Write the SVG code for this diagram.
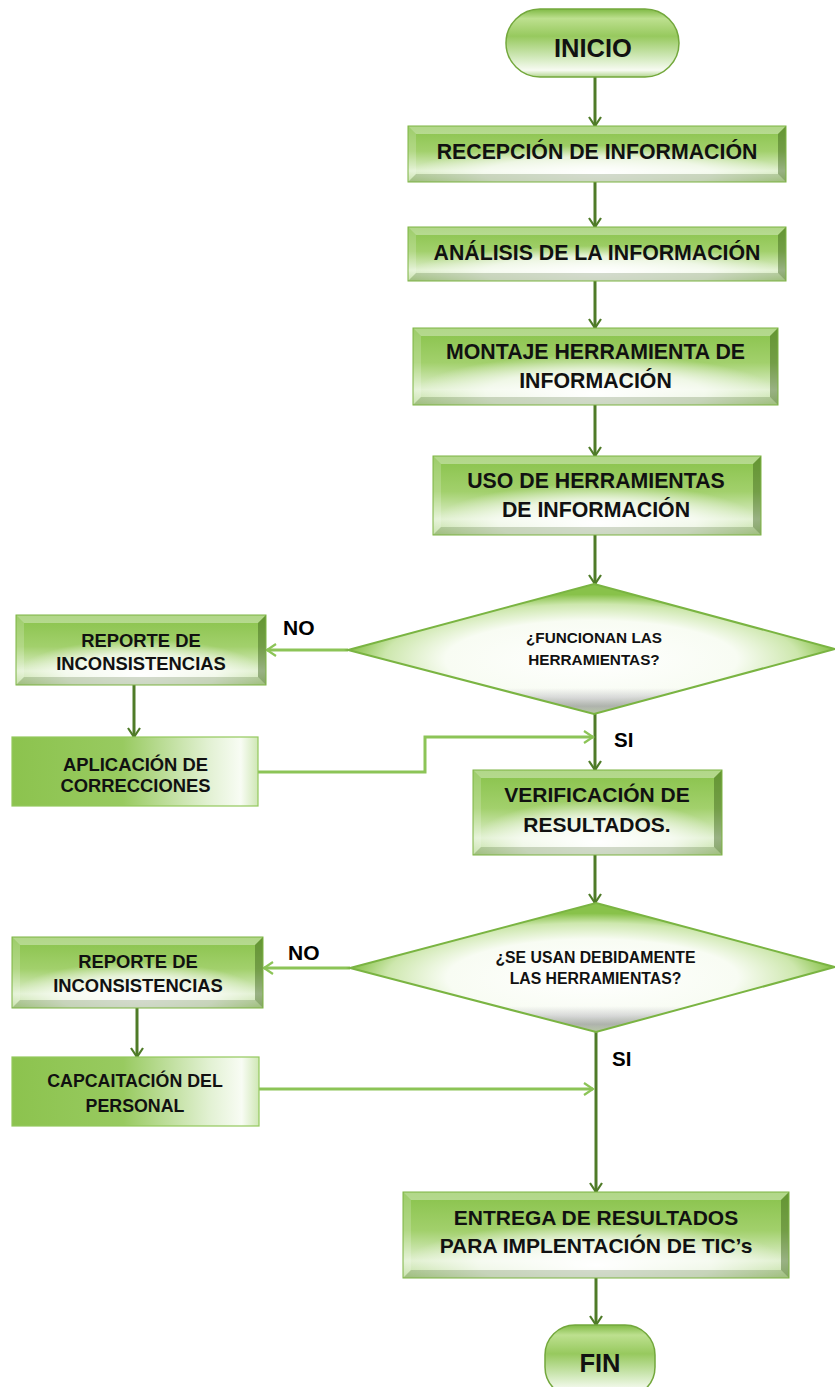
<svg xmlns="http://www.w3.org/2000/svg" width="835" height="1387" viewBox="0 0 835 1387">
<style>
.t{font-family:"Liberation Sans",Arial,Helvetica,sans-serif;font-weight:bold;fill:#111;text-anchor:middle}
.lbl{font-family:"Liberation Sans",Arial,Helvetica,sans-serif;font-weight:bold;fill:#000}
.face{fill:url(#faceV)}
.glow{fill:url(#glow)}
.bt{fill:#ffffff;opacity:.35}
.bl{fill:#ffffff;opacity:.18}
.br{fill:#2c5210;opacity:.4}
.bb{fill:#3b5a22;opacity:.22}
.edge{fill:none;stroke:#7db343;stroke-width:1}
.flat{fill:url(#flatH);stroke:#93c85c;stroke-width:1.2}
.dia{fill:url(#diaR)}
.diaS{fill:url(#diaShade)}
.diaE{fill:none;stroke:#7ab442;stroke-width:2}
.pill{fill:url(#pillV);stroke:#73a83c;stroke-width:1.5}
.cd{fill:none;stroke:#4f7b28;stroke-width:3;marker-end:url(#ad)}
.cl{fill:none;stroke:#8cc457;stroke-width:3;marker-end:url(#al)}
</style>
<defs>
<linearGradient id="faceV" x1="0" y1="0" x2="0" y2="1">
<stop offset="0" stop-color="#88c24a"/>
<stop offset="0.45" stop-color="#a2d06c"/>
<stop offset="0.8" stop-color="#e0f0cf"/>
<stop offset="1" stop-color="#bddc9b"/>
</linearGradient>
<radialGradient id="glow" cx="0.5" cy="0.85" r="0.5">
<stop offset="0" stop-color="#ffffff" stop-opacity="1"/>
<stop offset="0.6" stop-color="#ffffff" stop-opacity="0.7"/>
<stop offset="1" stop-color="#ffffff" stop-opacity="0"/>
</radialGradient>
<linearGradient id="flatH" x1="0" y1="0" x2="1" y2="0">
<stop offset="0" stop-color="#8cc34e"/>
<stop offset="0.45" stop-color="#98ca60"/>
<stop offset="0.8" stop-color="#e2f1d3"/>
<stop offset="0.93" stop-color="#f8fcf4"/>
<stop offset="1" stop-color="#cfe7b5"/>
</linearGradient>
<radialGradient id="diaR" cx="0.5" cy="0.58" r="0.5">
<stop offset="0" stop-color="#ffffff"/>
<stop offset="0.6" stop-color="#f8fcf3"/>
<stop offset="0.85" stop-color="#cde7ad"/>
<stop offset="1" stop-color="#88c24a"/>
</radialGradient>
<linearGradient id="diaShade" x1="0" y1="0" x2="0" y2="1">
<stop offset="0" stop-color="#6e6680" stop-opacity="0"/>
<stop offset="0.8" stop-color="#6e6680" stop-opacity="0"/>
<stop offset="0.94" stop-color="#6e6680" stop-opacity="0.45"/>
<stop offset="1" stop-color="#6e6680" stop-opacity="0.25"/>
</linearGradient>
<linearGradient id="pillV" x1="0" y1="0" x2="0" y2="1">
<stop offset="0" stop-color="#80ba45"/>
<stop offset="0.14" stop-color="#bde08f"/>
<stop offset="0.4" stop-color="#97c95e"/>
<stop offset="0.72" stop-color="#d3eabd"/>
<stop offset="0.9" stop-color="#f7fbf2"/>
<stop offset="1" stop-color="#b3d690"/>
</linearGradient>
<marker id="ad" viewBox="0 0 14 14" refX="12" refY="7" markerWidth="14" markerHeight="14" markerUnits="userSpaceOnUse" orient="auto">
<path d="M3,1 L12,7 L3,13" fill="none" stroke="#4f7b28" stroke-width="2.2"/>
</marker>
<marker id="al" viewBox="0 0 14 14" refX="12" refY="7" markerWidth="14" markerHeight="14" markerUnits="userSpaceOnUse" orient="auto">
<path d="M3,1 L12,7 L3,13" fill="none" stroke="#8cc457" stroke-width="2.2"/>
</marker>
</defs>

<g id="connectors">
<path class="cd" d="M595,77 V126"/>
<path class="cd" d="M595,182 V227"/>
<path class="cd" d="M595,281 V328"/>
<path class="cd" d="M595,405 V456"/>
<path class="cd" d="M595,535 V584"/>
<path class="cd" d="M595,714 V770"/>
<path class="cd" d="M595,855 V903"/>
<path class="cd" d="M596,1032 V1192"/>
<path class="cd" d="M596,1278 V1325"/>
<path class="cd" d="M134,685 V737"/>
<path class="cd" d="M137,1008 V1057"/>
<path class="cl" d="M348,650 H267"/>
<path class="cl" d="M258,772 H425 V737 H593"/>
<path class="cl" d="M350,968 H264"/>
<path class="cl" d="M259,1089 H593"/>
</g>

<g id="n-inicio">
<rect class="pill" x="506" y="9" width="173" height="68" rx="34"/>
<text class="t" x="593" y="57" font-size="25.5">INICIO</text>
</g>

<g id="n-recepcion">
<rect class="face" x="408" y="126" width="378" height="56"/>
<rect class="glow" x="408" y="126" width="378" height="56"/>
<polygon class="bt" points="408,126 786,126 778,134 416,134"/>
<polygon class="bl" points="408,126 416,134 416,174 408,182"/>
<polygon class="br" points="786,126 786,182 778,174 778,134"/>
<polygon class="bb" points="408,182 416,174 778,174 786,182"/>
<rect class="edge" x="408" y="126" width="378" height="56"/>
<text class="t" x="597" y="159" font-size="21.3">RECEPCIÓN DE INFORMACIÓN</text>
</g>

<g id="n-analisis">
<rect class="face" x="408" y="227" width="378" height="54"/>
<rect class="glow" x="408" y="227" width="378" height="54"/>
<polygon class="bt" points="408,227 786,227 778,235 416,235"/>
<polygon class="bl" points="408,227 416,235 416,273 408,281"/>
<polygon class="br" points="786,227 786,281 778,273 778,235"/>
<polygon class="bb" points="408,281 416,273 778,273 786,281"/>
<rect class="edge" x="408" y="227" width="378" height="54"/>
<text class="t" x="597" y="260" font-size="21.3">ANÁLISIS DE LA INFORMACIÓN</text>
</g>

<g id="n-montaje">
<rect class="face" x="413" y="328" width="365" height="77"/>
<rect class="glow" x="413" y="328" width="365" height="77"/>
<polygon class="bt" points="413,328 778,328 770,336 421,336"/>
<polygon class="bl" points="413,328 421,336 421,397 413,405"/>
<polygon class="br" points="778,328 778,405 770,397 770,336"/>
<polygon class="bb" points="413,405 421,397 770,397 778,405"/>
<rect class="edge" x="413" y="328" width="365" height="77"/>
<text class="t" x="595.5" y="359" font-size="21.3">MONTAJE HERRAMIENTA DE</text>
<text class="t" x="595.5" y="388" font-size="21.3">INFORMACIÓN</text>
</g>

<g id="n-uso">
<rect class="face" x="433" y="456" width="328" height="79"/>
<rect class="glow" x="433" y="456" width="328" height="79"/>
<polygon class="bt" points="433,456 761,456 753,464 441,464"/>
<polygon class="bl" points="433,456 441,464 441,527 433,535"/>
<polygon class="br" points="761,456 761,535 753,527 753,464"/>
<polygon class="bb" points="433,535 441,527 753,527 761,535"/>
<rect class="edge" x="433" y="456" width="328" height="79"/>
<text class="t" x="596" y="488" font-size="21.3">USO DE HERRAMIENTAS</text>
<text class="t" x="596" y="517" font-size="21.3">DE INFORMACIÓN</text>
</g>

<g id="n-decision1">
<polygon class="dia" points="594,584 835,649 594,714 348,650"/>
<polygon class="diaS" points="594,584 835,649 594,714 348,650"/>
<polygon class="diaE" points="594,584 835,649 594,714 348,650"/>
<text class="t" x="594" y="643" font-size="15.3">¿FUNCIONAN LAS</text>
<text class="t" x="594" y="665" font-size="15.3">HERRAMIENTAS?</text>
</g>
<text class="lbl" x="283" y="635" font-size="21">NO</text>
<text class="lbl" x="614" y="747" font-size="20.5">SI</text>

<g id="n-reporte1">
<rect class="face" x="16" y="615" width="250" height="70"/>
<rect class="glow" x="16" y="615" width="250" height="70"/>
<polygon class="bt" points="16,615 266,615 258,623 24,623"/>
<polygon class="bl" points="16,615 24,623 24,677 16,685"/>
<polygon class="br" points="266,615 266,685 258,677 258,623"/>
<polygon class="bb" points="16,685 24,677 258,677 266,685"/>
<rect class="edge" x="16" y="615" width="250" height="70"/>
<text class="t" x="141" y="647" font-size="18.4">REPORTE DE</text>
<text class="t" x="141" y="670" font-size="18.4">INCONSISTENCIAS</text>
</g>

<g id="n-aplicacion">
<rect class="flat" x="12" y="737" width="246" height="69"/>
<text class="t" x="135.5" y="771" font-size="18.4">APLICACIÓN DE</text>
<text class="t" x="135.5" y="792" font-size="18.4">CORRECCIONES</text>
</g>

<g id="n-verificacion">
<rect class="face" x="473" y="770" width="249" height="85"/>
<rect class="glow" x="473" y="770" width="249" height="85"/>
<polygon class="bt" points="473,770 722,770 714,778 481,778"/>
<polygon class="bl" points="473,770 481,778 481,847 473,855"/>
<polygon class="br" points="722,770 722,855 714,847 714,778"/>
<polygon class="bb" points="473,855 481,847 714,847 722,855"/>
<rect class="edge" x="473" y="770" width="249" height="85"/>
<text class="t" x="597" y="802" font-size="21">VERIFICACIÓN DE</text>
<text class="t" x="597" y="832" font-size="21">RESULTADOS.</text>
</g>

<g id="n-decision2">
<polygon class="dia" points="596,903 835,967 596,1032 350,968"/>
<polygon class="diaS" points="596,903 835,967 596,1032 350,968"/>
<polygon class="diaE" points="596,903 835,967 596,1032 350,968"/>
<text class="t" x="595.5" y="963" font-size="15.8">¿SE USAN DEBIDAMENTE</text>
<text class="t" x="595.5" y="984" font-size="15.8">LAS HERRAMIENTAS?</text>
</g>
<text class="lbl" x="288" y="960" font-size="21">NO</text>
<text class="lbl" x="612" y="1066" font-size="20.5">SI</text>

<g id="n-reporte2">
<rect class="face" x="12" y="937" width="251" height="71"/>
<rect class="glow" x="12" y="937" width="251" height="71"/>
<polygon class="bt" points="12,937 263,937 255,945 20,945"/>
<polygon class="bl" points="12,937 20,945 20,1000 12,1008"/>
<polygon class="br" points="263,937 263,1008 255,1000 255,945"/>
<polygon class="bb" points="12,1008 20,1000 255,1000 263,1008"/>
<rect class="edge" x="12" y="937" width="251" height="71"/>
<text class="t" x="138" y="968" font-size="18.4">REPORTE DE</text>
<text class="t" x="138" y="992" font-size="18.4">INCONSISTENCIAS</text>
</g>

<g id="n-capacitacion">
<rect class="flat" x="12" y="1057" width="247" height="69"/>
<text class="t" x="135" y="1087" font-size="17.8">CAPCAITACIÓN DEL</text>
<text class="t" x="135" y="1112" font-size="17.8">PERSONAL</text>
</g>

<g id="n-entrega">
<rect class="face" x="403" y="1192" width="386" height="86"/>
<rect class="glow" x="403" y="1192" width="386" height="86"/>
<polygon class="bt" points="403,1192 789,1192 781,1200 411,1200"/>
<polygon class="bl" points="403,1192 411,1200 411,1270 403,1278"/>
<polygon class="br" points="789,1192 789,1278 781,1270 781,1200"/>
<polygon class="bb" points="403,1278 411,1270 781,1270 789,1278"/>
<rect class="edge" x="403" y="1192" width="386" height="86"/>
<text class="t" x="596" y="1225" font-size="21">ENTREGA DE RESULTADOS</text>
<text class="t" x="596" y="1253" font-size="21">PARA IMPLENTACIÓN DE TIC’s</text>
</g>

<g id="n-fin">
<rect class="pill" x="545" y="1325" width="110" height="72" rx="30"/>
<text class="t" x="600" y="1372" font-size="25.5">FIN</text>
</g>
</svg>
